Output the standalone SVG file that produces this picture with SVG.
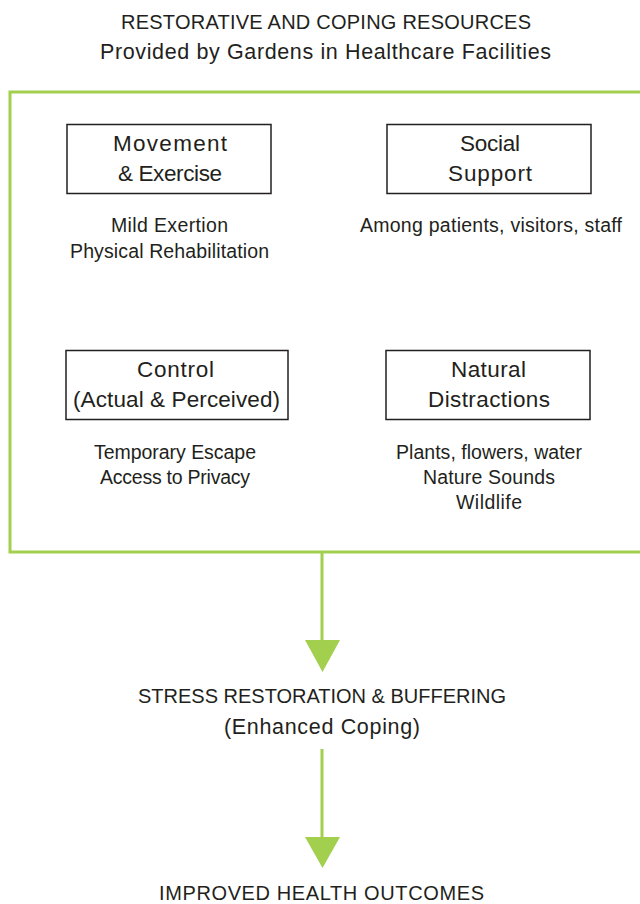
<svg xmlns="http://www.w3.org/2000/svg" width="640" height="904" viewBox="0 0 640 904">
<style>
text{font-family:"Liberation Sans",Arial,sans-serif;fill:#231f20;text-anchor:middle}
.t{font-size:20px}
.tm{font-size:21.5px}
.b{font-size:22.5px}
.s{font-size:19.5px}
.box{fill:none;stroke:#231f20;stroke-width:1.5}
.g{fill:none;stroke:#a3cf4f;stroke-width:3}
.gl{stroke:#a3cf4f;stroke-width:3}
.ah{fill:#a3cf4f}
</style>
<rect width="640" height="904" fill="#fff"/>
<g id="title">
<text class="t" x="326" y="29" textLength="410" lengthAdjust="spacing">RESTORATIVE AND COPING RESOURCES</text>
<text class="tm" x="325.5" y="59" textLength="451" lengthAdjust="spacing">Provided by Gardens in Healthcare Facilities</text>
</g>
<g id="frame"><path class="g" d="M645 92 H10 V552 H645"/></g>
<g id="movement">
<rect class="box" x="67" y="124.5" width="204" height="69"/>
<text class="b" x="170" y="151" textLength="114" lengthAdjust="spacing">Movement</text>
<text class="b" x="170" y="181" textLength="104" lengthAdjust="spacing">&amp; Exercise</text>
<text class="s" x="169.5" y="232" textLength="117" lengthAdjust="spacing">Mild Exertion</text>
<text class="s" x="169.5" y="258" textLength="199" lengthAdjust="spacing">Physical Rehabilitation</text>
</g>
<g id="social">
<rect class="box" x="387" y="124.5" width="204" height="69"/>
<text class="b" x="490" y="151" textLength="60" lengthAdjust="spacing">Social</text>
<text class="b" x="490" y="181" textLength="84" lengthAdjust="spacing">Support</text>
<text class="s" x="491" y="232" textLength="262" lengthAdjust="spacing">Among patients, visitors, staff</text>
</g>
<g id="control">
<rect class="box" x="66" y="350.5" width="222" height="69"/>
<text class="b" x="175.5" y="377" textLength="77" lengthAdjust="spacing">Control</text>
<text class="b" x="176.5" y="407" textLength="207" lengthAdjust="spacing">(Actual &amp; Perceived)</text>
<text class="s" x="175" y="459" textLength="162" lengthAdjust="spacing">Temporary Escape</text>
<text class="s" x="175" y="484" textLength="150" lengthAdjust="spacing">Access to Privacy</text>
</g>
<g id="natural">
<rect class="box" x="386" y="350.5" width="204" height="69"/>
<text class="b" x="488.5" y="377" textLength="75" lengthAdjust="spacing">Natural</text>
<text class="b" x="489" y="407" textLength="122" lengthAdjust="spacing">Distractions</text>
<text class="s" x="489" y="459" textLength="186" lengthAdjust="spacing">Plants, flowers, water</text>
<text class="s" x="489" y="484" textLength="132" lengthAdjust="spacing">Nature Sounds</text>
<text class="s" x="489" y="509" textLength="66" lengthAdjust="spacing">Wildlife</text>
</g>
<g id="stress">
<text class="t" x="322" y="703" textLength="368" lengthAdjust="spacing">STRESS RESTORATION &amp; BUFFERING</text>
<text class="tm" x="322" y="734" textLength="196" lengthAdjust="spacing">(Enhanced Coping)</text>
</g>
<g id="outcomes">
<text class="t" x="321.5" y="900" textLength="325" lengthAdjust="spacing">IMPROVED HEALTH OUTCOMES</text>
</g>
<g id="connectors">
<line class="gl" x1="322" y1="552" x2="322" y2="642"/>
<polygon class="ah" points="305,640 340,640 322.5,672"/>
<line class="gl" x1="322" y1="749" x2="322" y2="839"/>
<polygon class="ah" points="305,837 340,837 322.5,868"/>
</g>
</svg>
